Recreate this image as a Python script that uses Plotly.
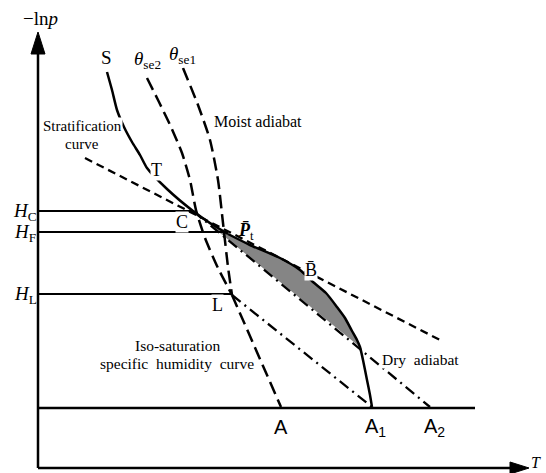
import plotly.graph_objects as go

# ---- schematic data (diagram coordinates: x to the right, y downward) ----
strat_x = [107, 112, 117, 124, 132, 140, 147, 167, 193, 210, 228]
strat_y = [72, 90, 110, 127, 142, 155, 168, 189, 211, 223, 234]

parcel_x = [228, 250, 280, 300, 313, 326, 337, 345, 352, 357, 360, 363, 367, 370, 372]
parcel_y = [234, 245, 258, 270, 282, 293, 307, 318, 331, 340, 347, 360, 380, 395, 407]

se2_x = [147, 159, 171, 182, 190, 196, 205, 218, 232]
se2_y = [78, 102, 127, 153, 180, 210, 238, 268, 295]

se1_x = [183, 198, 210, 218, 223, 228, 232]
se1_y = [68, 105, 140, 180, 223, 267, 295]

isoq_x = [232, 281]
isoq_y = [295, 407]

dry_dash_x = [85, 440]
dry_dash_y = [158, 340]

dd1_x = [232, 372]
dd1_y = [295, 407]

dd2_x = [193, 430]
dd2_y = [211, 407]

levels_y = [211, 232, 294]
levels_x_end = [193, 228, 232]
level_names = ["C", "F", "L"]

base_y = 408
base_x = [38, 475]

fig = go.Figure()

def line(x, y, dash="solid", width=2.5, color="black", shape="linear"):
    fig.add_trace(go.Scatter(x=x, y=y, mode="lines",
                             line=dict(color=color, width=width, dash=dash, shape=shape,
                                       smoothing=0.6 if shape == "spline" else None),
                             hoverinfo="skip", showlegend=False))

# shaded area between parcel curve and dash-dot line
n_shade = parcel_x.index(360) + 1
sx = parcel_x[:n_shade] + [dd2_x[0]]
sy = parcel_y[:n_shade] + [dd2_y[0]]
fig.add_trace(go.Scatter(x=sx, y=sy, mode="lines", fill="toself",
                         fillcolor="#858585", line=dict(width=0, color="#858585"),
                         hoverinfo="skip", showlegend=False))

# axes
line([38, 38], [468, 50], width=2.5)
line([38, 515], [468, 468], width=2.5)
fig.add_trace(go.Scatter(x=[31, 45, 38, 31], y=[54, 54, 32, 54], mode="lines", fill="toself",
                         fillcolor="black", line=dict(width=1, color="black"),
                         hoverinfo="skip", showlegend=False))
fig.add_trace(go.Scatter(x=[510, 510, 529, 510], y=[462, 474, 468, 462], mode="lines", fill="toself",
                         fillcolor="black", line=dict(width=1, color="black"),
                         hoverinfo="skip", showlegend=False))

# horizontal levels and base
for ly, lx in zip(levels_y, levels_x_end):
    line([38, lx], [ly, ly], width=2)
line(base_x, [base_y, base_y], width=2.5)

# curves
line(dry_dash_x, dry_dash_y, dash="8px,5px", width=2.3)
line(se2_x, se2_y, dash="13px,6px", width=2.5, shape="spline")
line(se1_x, se1_y, dash="13px,6px", width=2.5, shape="spline")
line(isoq_x, isoq_y, dash="13px,6px", width=2.5)
line(dd1_x, dd1_y, dash="11px,5px,2px,5px", width=2.3)
line(dd2_x, dd2_y, dash="11px,5px,2px,5px", width=2.3)
line(strat_x, strat_y, width=2.5, shape="spline")
line(parcel_x, parcel_y, width=2.5, shape="spline")

serif = "Liberation Serif"
sans = "Liberation Sans"
ann = []

def text(x, y, t, size=15, family=serif, bg=None, xanchor="center", color="black"):
    d = dict(x=x, y=y, xref="x", yref="y", text=t, showarrow=False,
             font=dict(family=family, size=size, color=color),
             xanchor=xanchor, yanchor="middle", borderpad=0)
    if bg:
        d["bgcolor"] = bg
    ann.append(d)

text(40, 18, "−ln<i>p</i>", size=19)
text(106, 57, "S", size=19, bg="white")
text(147, 60, "<i>θ</i><sub>se2</sub>", size=19, bg="white")
text(182, 55, "<i>θ</i><sub>se1</sub>", size=19, bg="white")
text(213, 121, "Moist adiabat", size=16, xanchor="left")
text(82, 126, "Stratification", size=15, bg="white")
text(82, 144, "curve", size=15)
text(156, 170, "T", size=18, bg="white")
text(182, 222, "C", size=18, bg="white")
text(246, 231, "<b><i>P\u0304</i></b><sub>t</sub>", size=18)
text(311, 270, "B\u0304", size=18, bg="white")
text(217, 305, "L", size=18, bg="white")
text(177, 345, "Iso-saturation", size=15.5, bg="white")
text(177, 363, "specific  humidity  curve", size=15.5, bg="white")
text(381, 359, "Dry  adiabat", size=15.5, bg="white", xanchor="left")
for ly, nm in zip(levels_y, level_names):
    text(25, ly + 1, "<i>H</i><sub>" + nm + "</sub>", size=19)
text(281, 427, "A", size=20, family=sans)
text(375, 427, "A<sub>1</sub>", size=20, family=sans)
text(434, 427, "A<sub>2</sub>", size=20, family=sans)
text(536, 462, "<i>T</i>", size=16)

fig.update_layout(
    width=546, height=473,
    margin=dict(l=0, r=0, t=0, b=0),
    paper_bgcolor="white", plot_bgcolor="white",
    xaxis=dict(range=[0, 546], visible=False, fixedrange=True),
    yaxis=dict(range=[473, 0], visible=False, fixedrange=True),
    annotations=ann,
    showlegend=False,
)

fig.write_html("out.html", config={"displayModeBar": False},
               post_script="document.body.style.margin='0';document.body.style.overflow='hidden';")
